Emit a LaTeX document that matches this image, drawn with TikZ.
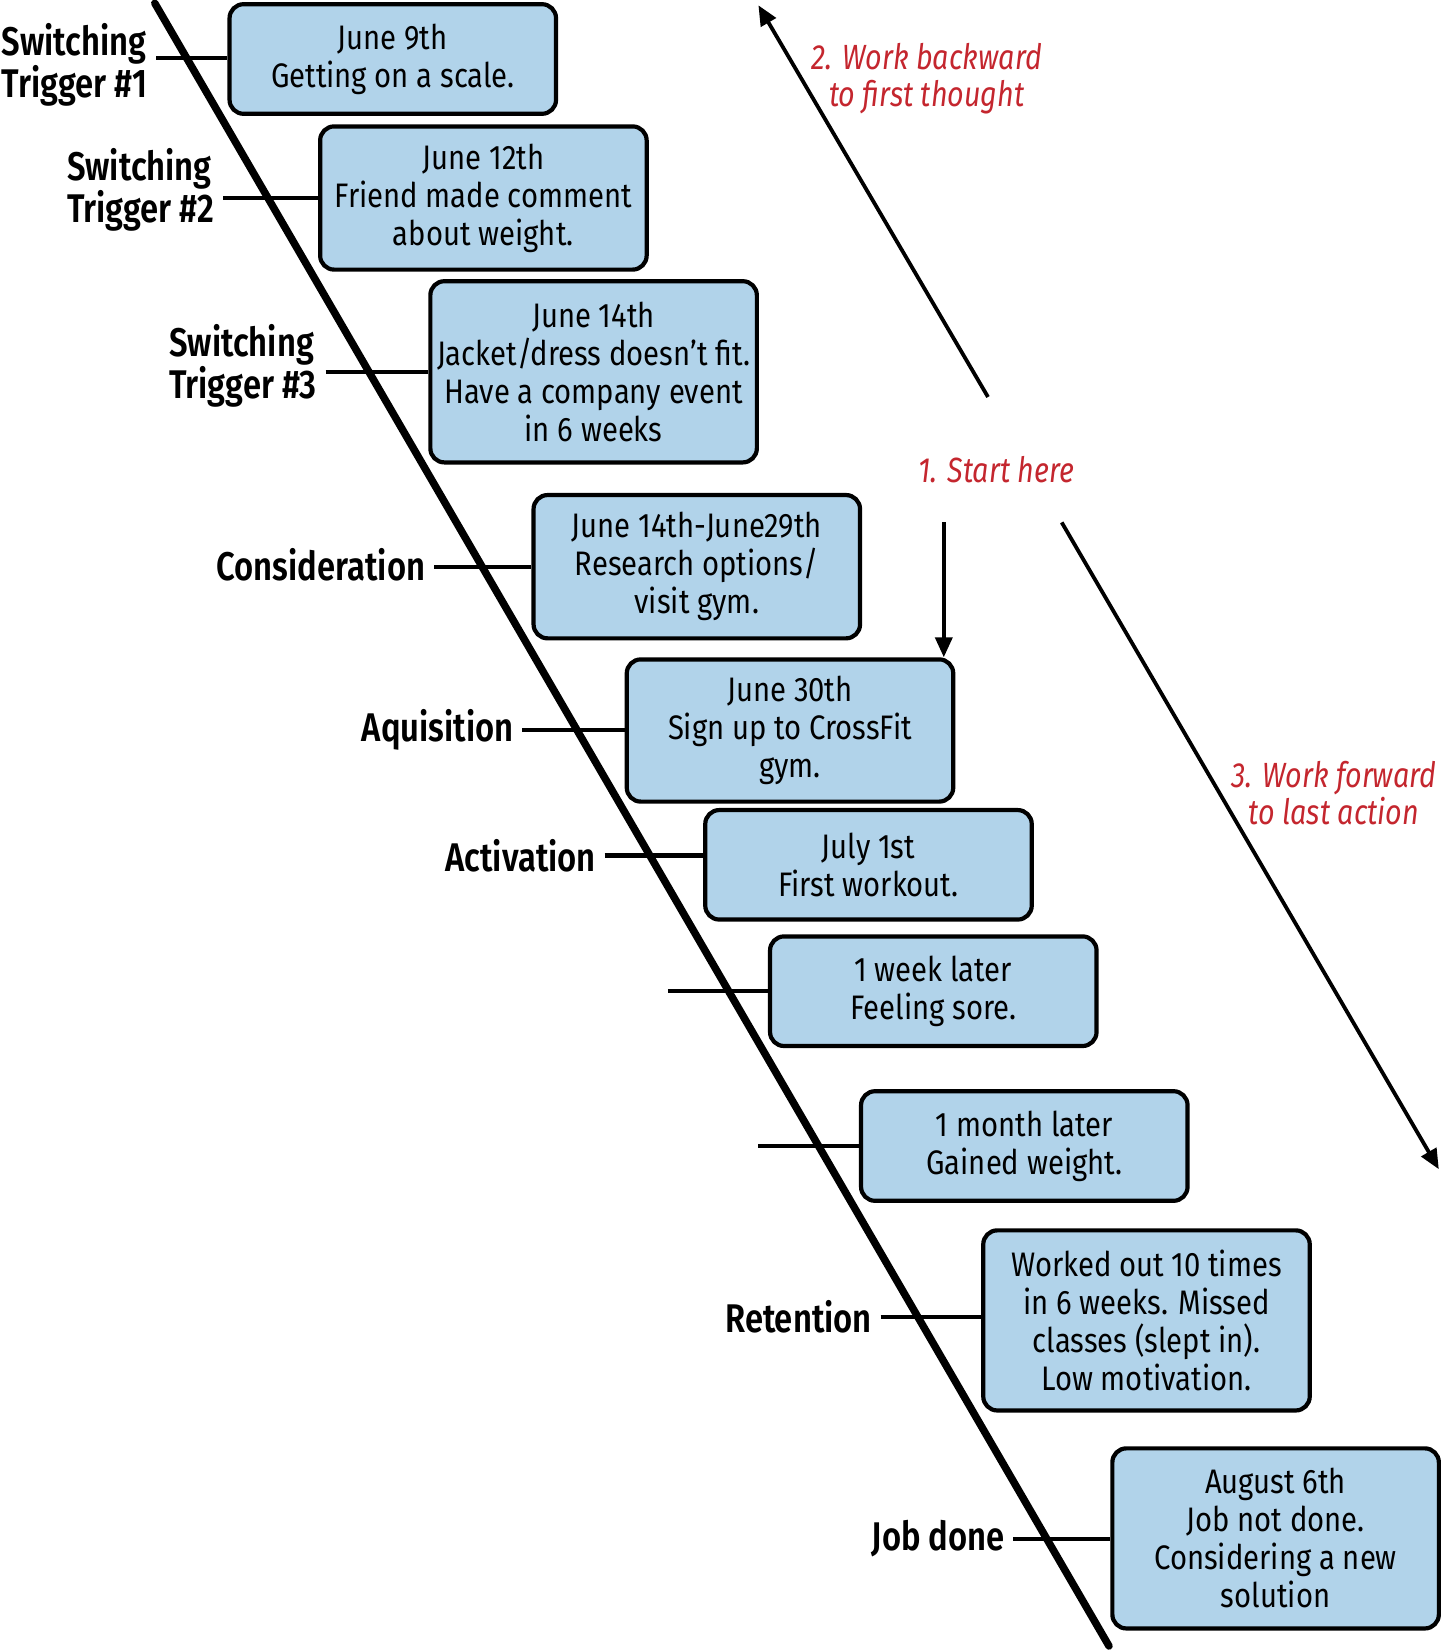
\documentclass[tikz,border=0pt]{standalone}
\usepackage{fontspec}
\setmainfont{Fira Sans}[FakeStretch=0.86]
\newfontfamily\lblfont{Fira Sans}[FakeStretch=0.82, BoldFont={Fira Sans SemiBold}]
\newfontfamily\redfont{Fira Sans}[FakeStretch=0.82]
\usetikzlibrary{arrows.meta}
\definecolor{boxblue}{HTML}{B1D3EA}
\definecolor{notered}{HTML}{C4262E}
\tikzset{
  stepbox/.style={draw, line width=4.2pt, rounded corners=14pt, fill=boxblue,
    minimum width=326.5pt, align=center, inner sep=0pt,
    font=\fontsize{34}{38}\selectfont},
  lbl/.style={anchor=east, align=left, inner xsep=8.5pt, inner ysep=0pt,
    font=\lblfont\bfseries\fontsize{40}{42}\selectfont},
  conn/.style={line width=4.2pt},
  timeline/.style={line width=7.5pt, line cap=round},
  note/.style={text=notered, align=center, inner sep=0pt,
    font=\redfont\itshape\fontsize{35}{37}\selectfont},
  flow/.style={line width=3.8pt, -{Triangle[length=20pt,width=17pt]}}
}
\begin{document}
\begin{tikzpicture}[x=1pt,y=-1pt]
\useasboundingbox (0,0) rectangle (1442,1652);
% timeline
\draw[timeline] (154.8,3.2) -- (1109,1646);
% boxes
\node[stepbox, minimum height=109.6pt] (b1) at (392.8,59) {June 9th\\Getting on a scale.};
\node[stepbox, minimum height=143.2pt] (b2) at (483.4,198) {June 12th\\Friend made comment\\about weight.};
\node[stepbox, minimum height=181.2pt] (b3) at (593.6,371.8) {June 14th\\Jacket/dress doesn't fit.\\Have a company event\\in 6 weeks};
\node[stepbox, minimum height=143.3pt] (b4) at (696.8,566.7) {June 14th-June29th\\Research options/\\visit gym.};
\node[stepbox, minimum height=142.2pt] (b5) at (790,730.5) {June 30th\\Sign up to CrossFit\\gym.};
\node[stepbox, minimum height=109.5pt] (b6) at (868.5,864.8) {July 1st\\First workout.};
\node[stepbox, minimum height=109.6pt] (b7) at (933.3,991.2) {1 week later\\Feeling sore.};
\node[stepbox, minimum height=109.6pt] (b8) at (1024.3,1146) {1 month later\\Gained weight.};
\node[stepbox, minimum height=180.1pt] (b9) at (1146.5,1320.4) {Worked out 10 times\\in 6 weeks. Missed\\classes (slept in).\\Low motivation.};
\node[stepbox, minimum height=180.1pt] (b10) at (1275.6,1538.4) {August 6th\\Job not done.\\Considering a new\\solution};
% free ends of the connectors
\coordinate (c1) at (156,58);
\coordinate (c2) at (223.3,197.7);
\coordinate (c3) at (325.5,371.7);
\coordinate (c4) at (434,566.7);
\coordinate (c5) at (522.4,730);
\coordinate (c6) at (604.6,855.5);
\coordinate (c7) at (667.8,991.2);
\coordinate (c8) at (758.4,1146);
\coordinate (c9) at (880.6,1317);
\coordinate (c10) at (1013.3,1538.9);
% labels
\node[lbl, yshift=-7pt] (l1) at (c1) {Switching\\Trigger \#1};
\node[lbl, yshift=7.5pt] (l2) at (c2) {Switching\\Trigger \#2};
\node[lbl, yshift=5.5pt] (l3) at (c3) {Switching\\Trigger \#3};
\node[lbl, yshift=1.5pt] (l4) at (c4) {Consideration};
\node[lbl] (l5) at (c5) {Aquisition};
\node[lbl] (l6) at (c6) {Activation};
\node[lbl] (l9) at (c9) {Retention};
\node[lbl] (l10) at (c10) {Job done};
% connectors
\draw[conn] (c1) -- (c1 -| b1.west);
\draw[conn] (c2) -- (c2 -| b2.west);
\draw[conn] (c3) -- (c3 -| b3.west);
\draw[conn] (c4) -- (c4 -| b4.west);
\draw[conn] (c5) -- (c5 -| b5.west);
\draw[conn] (c6) -- (c6 -| b6.west);
\draw[conn] (c7) -- (c7 -| b7.west);
\draw[conn] (c8) -- (c8 -| b8.west);
\draw[conn] (c9) -- (c9 -| b9.west);
\draw[conn] (c10) -- (c10 -| b10.west);
% notes
\node[note] (n2) at (926.9,79) {2. Work backward\\to first thought};
\node[note] (n1) at (996.4,469.8) {1. Start here};
\node[note] (n3) at (1334,793) {3. Work forward\\to last action};
% flow arrows
\coordinate (bs) at (988,397);
\coordinate (be) at (758.4,5.3);
\draw[flow] (bs) -- (be);
\coordinate (ds) at (943.8,522.4);
\draw[flow] (ds) -- (b5.north east -| ds);
\coordinate (fs) at (1061.7,522.4);
\coordinate (fe) at (1438.8,1169.2);
\draw[flow] (fs) -- (fe);
\end{tikzpicture}
\end{document}
